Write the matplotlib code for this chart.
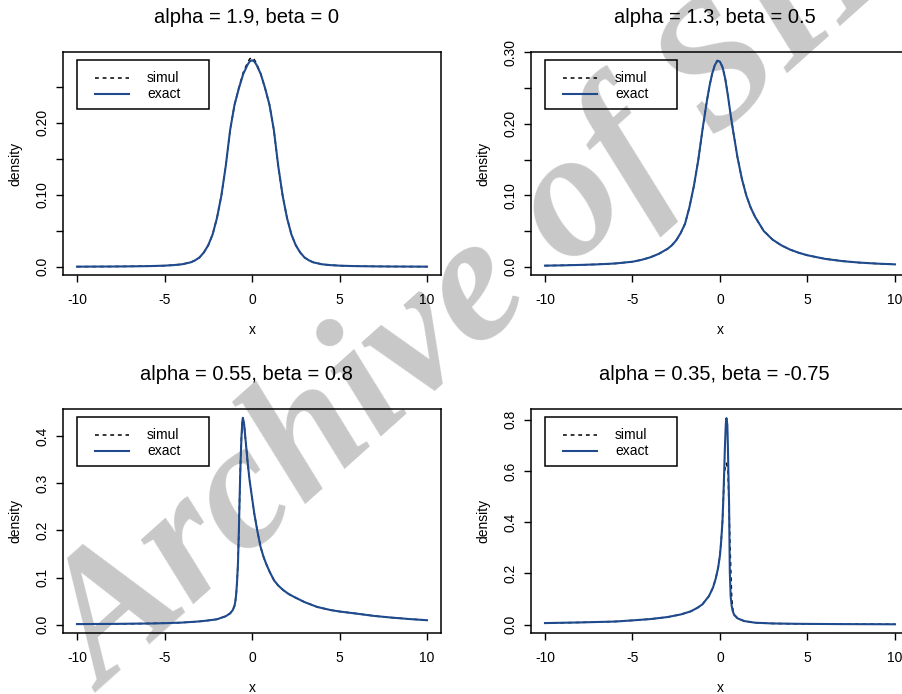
import matplotlib
matplotlib.use("Agg")
import matplotlib.pyplot as plt
from matplotlib.patches import Rectangle

plt.rcParams['font.family'] = ['Liberation Sans', 'DejaVu Sans']

# panel 1: alpha = 1.9, beta = 0
x1 = [-10, -9, -8, -7, -6, -5.5, -5, -4.5, -4, -3.5, -3.25, -3, -2.75, -2.5, -2.25,
      -2, -1.75, -1.5, -1.25, -1, -0.75, -0.5, -0.25, -0.125, 0,
      0.125, 0.25, 0.5, 0.75, 1, 1.25, 1.5, 1.75, 2, 2.25, 2.5, 2.75, 3, 3.25, 3.5, 4,
      4.5, 5, 5.5, 6, 7, 8, 9, 10]
exact1 = [0.0002, 0.0003, 0.0004, 0.0006, 0.0009, 0.0012, 0.0016, 0.0023, 0.0035, 0.0062,
          0.0090, 0.013, 0.020, 0.030, 0.045, 0.068, 0.099, 0.140, 0.190, 0.225, 0.248,
          0.268, 0.281, 0.2855, 0.287,
          0.2855, 0.281, 0.268, 0.248, 0.225, 0.190, 0.140, 0.099, 0.068, 0.045, 0.030, 0.020,
          0.013, 0.0090, 0.0062, 0.0035, 0.0023, 0.0016, 0.0012, 0.0009, 0.0006, 0.0004,
          0.0003, 0.0002]
simul1 = [0.0002, 0.0003, 0.0004, 0.0006, 0.0009, 0.0012, 0.0016, 0.0023, 0.0035, 0.0062,
          0.0090, 0.013, 0.020, 0.030, 0.045, 0.068, 0.099, 0.140, 0.190, 0.225, 0.249,
          0.270, 0.284, 0.289, 0.291,
          0.288, 0.283, 0.268, 0.248, 0.225, 0.190, 0.140, 0.099, 0.068, 0.045, 0.030, 0.020,
          0.013, 0.0090, 0.0062, 0.0035, 0.0023, 0.0016, 0.0012, 0.0009, 0.0006, 0.0004,
          0.0003, 0.0002]

# panel 2: alpha = 1.3, beta = 0.5
x2 = [-10, -9, -8, -7, -6, -5, -4.5, -4, -3.5, -3, -2.75, -2.5, -2.25, -2, -1.75, -1.5,
      -1.25, -1, -0.75, -0.6, -0.45, -0.3, -0.15, 0, 0.15, 0.3, 0.45, 0.6, 0.75, 1, 1.25,
      1.5, 1.75, 2, 2.5, 3, 3.5, 4, 4.5, 5, 6, 7, 8, 9, 10]
exact2 = [0.0015, 0.0019, 0.0025, 0.0033, 0.0045, 0.0070, 0.0095, 0.013, 0.018, 0.025,
          0.030, 0.037, 0.047, 0.060, 0.083, 0.112, 0.148, 0.192, 0.232, 0.253, 0.270,
          0.282, 0.2885, 0.287, 0.279, 0.263, 0.240, 0.214, 0.190, 0.153, 0.123, 0.100,
          0.083, 0.070, 0.050, 0.038, 0.030, 0.024, 0.0195, 0.016, 0.011, 0.0078, 0.0057,
          0.0043, 0.0033]
simul2 = [0.0015, 0.0019, 0.0025, 0.0033, 0.0045, 0.0070, 0.0095, 0.013, 0.018, 0.025,
          0.030, 0.037, 0.047, 0.060, 0.083, 0.112, 0.148, 0.192, 0.232, 0.253, 0.270,
          0.282, 0.2885, 0.287, 0.279, 0.263, 0.240, 0.214, 0.190, 0.153, 0.123, 0.100,
          0.083, 0.070, 0.050, 0.038, 0.030, 0.024, 0.0195, 0.016, 0.011, 0.0078, 0.0057,
          0.0043, 0.0033]

# panel 3: alpha = 0.55, beta = 0.8
x3 = [-10, -8, -6, -5, -4, -3, -2.5, -2, -1.5, -1.25, -1.1, -1.0, -0.95, -0.9, -0.85,
      -0.8, -0.75, -0.7, -0.65, -0.6, -0.55, -0.52, -0.45, -0.4, -0.33, -0.25, -0.14, 0.0,
      0.13, 0.3, 0.49, 0.65, 0.8, 1.0, 1.26, 1.5, 1.8, 2.1, 2.4, 3.0, 3.73, 4.5, 5, 6, 7,
      8, 9, 10]
exact3 = [0.0013, 0.0017, 0.0025, 0.0032, 0.0045, 0.0070, 0.0090, 0.0115, 0.018, 0.024,
          0.031, 0.040, 0.050, 0.066, 0.094, 0.132, 0.20, 0.28, 0.35, 0.40, 0.432, 0.439,
          0.425, 0.405, 0.377, 0.345, 0.307, 0.270, 0.236, 0.200, 0.165, 0.145, 0.130,
          0.113, 0.094, 0.083, 0.073, 0.065, 0.059, 0.048, 0.0376, 0.031, 0.028, 0.0234,
          0.0185, 0.015, 0.012, 0.0095]
simul3 = [0.0013, 0.0017, 0.0025, 0.0032, 0.0045, 0.0070, 0.0090, 0.0115, 0.018, 0.024,
          0.031, 0.040, 0.050, 0.066, 0.094, 0.132, 0.20, 0.28, 0.35, 0.40, 0.430, 0.436,
          0.425, 0.405, 0.377, 0.345, 0.307, 0.270, 0.236, 0.200, 0.165, 0.145, 0.130,
          0.113, 0.094, 0.083, 0.073, 0.065, 0.059, 0.048, 0.0376, 0.031, 0.028, 0.0234,
          0.0185, 0.015, 0.012, 0.0095]

# panel 4: alpha = 0.35, beta = -0.75
x4 = [-10, -8, -6, -5, -4, -3, -2.25, -1.68, -1.29, -1.0, -0.63, -0.4, -0.24, -0.1, 0.0,
      0.07, 0.14, 0.19, 0.24, 0.28, 0.32, 0.35, 0.37, 0.40, 0.42, 0.45, 0.48, 0.52, 0.56,
      0.61, 0.66, 0.72, 0.81, 1.0, 1.38, 2.0, 3.0, 4.0, 5.0, 7.0, 10.0]
exact4 = [0.0065, 0.009, 0.0125, 0.017, 0.022, 0.030, 0.040, 0.052, 0.066, 0.080, 0.112,
          0.145, 0.181, 0.225, 0.272, 0.33, 0.402, 0.49, 0.597, 0.69, 0.765, 0.80, 0.806,
          0.79, 0.779, 0.70, 0.59, 0.467, 0.207, 0.11, 0.077, 0.055, 0.038, 0.025, 0.0144,
          0.008, 0.005, 0.004, 0.0033, 0.0025, 0.0018]
x4s = [-10, -8, -6, -5, -4, -3, -2.25, -1.68, -1.29, -1.0, -0.63, -0.4, -0.24, -0.1, 0.0,
       0.07, 0.14, 0.19, 0.24, 0.30, 0.35, 0.37, 0.42, 0.46, 0.52, 0.56, 0.62, 0.67, 0.75,
       0.81, 1.0, 1.38, 2.0, 3.0, 4.0, 5.0, 7.0, 10.0]
simul4 = [0.0065, 0.009, 0.0125, 0.017, 0.022, 0.030, 0.040, 0.052, 0.066, 0.080, 0.112,
          0.145, 0.181, 0.225, 0.272, 0.33, 0.402, 0.49, 0.59, 0.615, 0.628, 0.63, 0.615,
          0.597, 0.45, 0.337, 0.207, 0.103, 0.05, 0.04, 0.026, 0.0144,
          0.008, 0.005, 0.004, 0.0033, 0.0025, 0.0018]

titles = ["alpha = 1.9, beta = 0", "alpha = 1.3, beta = 0.5",
          "alpha = 0.55, beta = 0.8", "alpha = 0.35, beta = -0.75"]
xticks = [-10, -5, 0, 5, 10]
xticklabels = ["-10", "-5", "0", "5", "10"]
yticks = [[0, 0.05, 0.10, 0.15, 0.20, 0.25],
          [0, 0.05, 0.10, 0.15, 0.20, 0.25, 0.30],
          [0, 0.1, 0.2, 0.3, 0.4],
          [0, 0.2, 0.4, 0.6, 0.8]]
yticklabels = [["0.0", "", "0.10", "", "0.20", ""],
               ["0.0", "", "0.10", "", "0.20", "", "0.30"],
               ["0.0", "0.1", "0.2", "0.3", "0.4"],
               ["0.0", "0.2", "0.4", "0.6", "0.8"]]
ylims = [(-0.0114, 0.2985), (-0.0116, 0.3006), (-0.0176, 0.4576), (-0.0322, 0.8416)]
legend_labels = ["simul", "exact"]

BLUE = '#1f4b8e'
W, H = 903, 694


def px_axes(fig, left, top, w, h):
    return fig.add_axes([left / W, 1 - (top + h) / H, w / W, h / H])


fig = plt.figure(figsize=(W / 100, H / 100), dpi=100)
fig.patch.set_facecolor('white')

# grey watermark running diagonally behind the panels
fig.text(104 / W, 1 - 693 / H, "Archive of SID", rotation=41.8, rotation_mode='anchor',
         ha='left', va='baseline', fontsize=130, family='Liberation Serif',
         fontweight='bold', fontstyle='italic', color='#c8c8c8', zorder=-5)

boxes = [(63, 52, 378, 223), (531, 52, 378, 223), (63, 409, 378, 224), (531, 409, 378, 224)]
series = [(x1, exact1, x1, simul1), (x2, exact2, x2, simul2),
          (x3, exact3, x3, simul3), (x4, exact4, x4s, simul4)]
styles = [dict(color='black', lw=1.1, ls=(0, (2.5, 2.5))), dict(color=BLUE, lw=1.5)]

for i in range(4):
    ax = px_axes(fig, *boxes[i])
    ax.set_facecolor('none')
    xe, ye, xs, ys = series[i]
    ax.plot(xs, ys, zorder=2, **styles[0])
    ax.plot(xe, ye, zorder=3, **styles[1])
    ax.set_xlim(-10.8, 10.8)
    ax.set_ylim(*ylims[i])
    ax.set_xticks(xticks)
    ax.set_xticklabels(xticklabels)
    ax.set_yticks(yticks[i])
    ax.set_yticklabels(yticklabels[i], rotation=90, va='center')
    ax.tick_params(direction='out', length=5, width=1, labelsize=10, colors='black')
    ax.tick_params(axis='x', pad=8)
    ax.tick_params(axis='y', pad=5)
    for sp in ax.spines.values():
        sp.set_linewidth(1.1)
    ax.set_title(titles[i], fontsize=14.5, pad=21, x=0.486)
    ax.set_xlabel('x', fontsize=10)
    ax.xaxis.set_label_coords(0.5, -0.215)
    ax.set_ylabel('density', fontsize=10)
    ax.yaxis.set_label_coords(-0.107, 0.5)

    # R-style legend box, offsets in pixels from the top-left corner of the plot box
    aw, ah = boxes[i][2], boxes[i][3]
    ax.add_patch(Rectangle((14 / aw, 1 - 56.6 / ah), 132 / aw, 48.3 / ah,
                           transform=ax.transAxes, fill=False, edgecolor='black',
                           lw=1.1, clip_on=False, zorder=5))
    for j, lab in enumerate(legend_labels):
        yy = 1 - (25.8 + 16 * j) / ah
        ax.plot([32 / aw, 66 / aw], [yy, yy], transform=ax.transAxes, clip_on=False,
                **styles[j])
        ax.text(84 / aw, yy, lab, transform=ax.transAxes, fontsize=10, va='center',
                ha='left')

fig.savefig('out.png', dpi=100)
